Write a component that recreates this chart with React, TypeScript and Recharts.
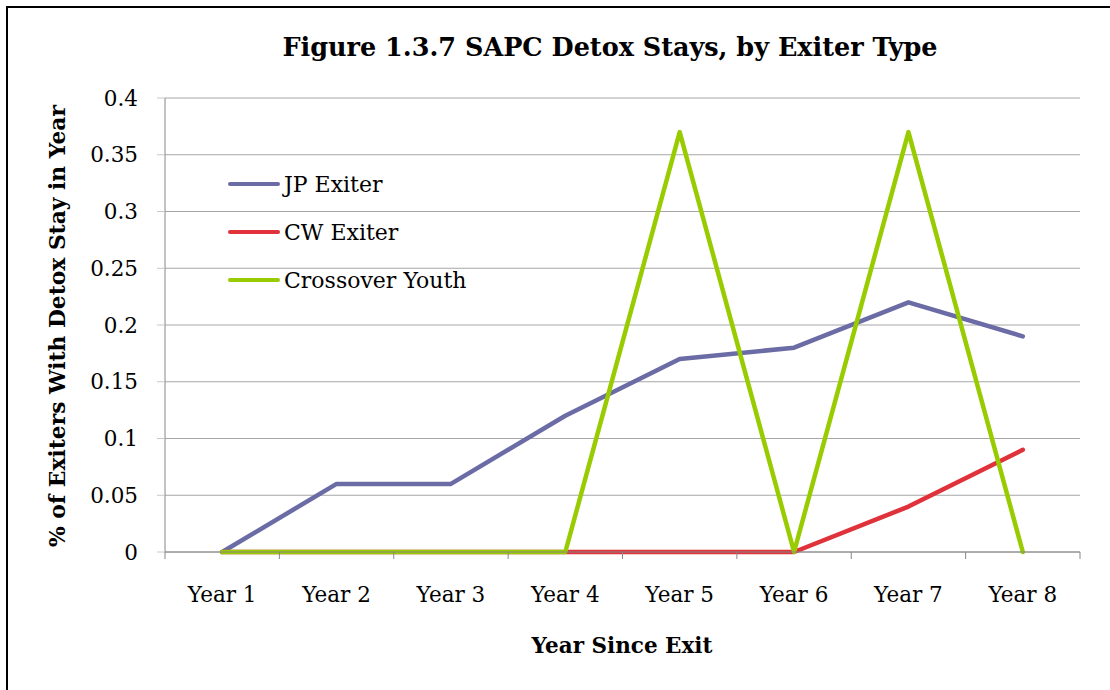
import { LineChart, Line, XAxis, YAxis, CartesianGrid } from "recharts";

const years = ["Year 1", "Year 2", "Year 3", "Year 4", "Year 5", "Year 6", "Year 7", "Year 8"];
const jpExiter = [0, 0.06, 0.06, 0.12, 0.17, 0.18, 0.22, 0.19];
const cwExiter = [0, 0, 0, 0, 0, 0, 0.04, 0.09];
const crossoverYouth = [0, 0, 0, 0, 0.37, 0, 0.37, 0];
const yTicks = [0, 0.05, 0.1, 0.15, 0.2, 0.25, 0.3, 0.35, 0.4];

// label ticks at whole numbers, tick marks at the category edges (halves)
const xTicks = [0.5, ...years.flatMap((_, i) => [i + 1, i + 1.5])];

const series = [
  { key: "jp", name: "JP Exiter", color: "#6b6ba6" },
  { key: "cw", name: "CW Exiter", color: "#e0323a" },
  { key: "cy", name: "Crossover Youth", color: "#99cc00" },
];

const data = years.map((y, i) => ({
  idx: i + 1,
  year: y,
  jp: jpExiter[i],
  cw: cwExiter[i],
  cy: crossoverYouth[i],
}));

const font = "'DejaVu Serif', serif";

function YearTick(props: any) {
  const { x, y, payload } = props;
  const v = payload.value as number;
  if (Number.isInteger(v)) {
    return (
      <text x={x} y={y} dy={50} textAnchor="middle" fill="#000" fontFamily={font} fontSize={21.5}>
        {years[v - 1]}
      </text>
    );
  }
  return <line x1={x} x2={x} y1={y} y2={y + 7} stroke="#868686" />;
}

// legend sits inside the plot, top-left, like the Excel original
function LegendBox() {
  return (
    <div style={{ position: "absolute", left: 228, top: 160, fontFamily: font, fontSize: 22, color: "#000" }}>
      {series.map((s) => (
        <div key={s.key} style={{ display: "flex", alignItems: "center", height: 48 }}>
          <span
            style={{
              display: "inline-block",
              width: 52,
              height: 4.5,
              borderRadius: 2,
              background: s.color,
              marginRight: 4,
            }}
          />
          <span>{s.name}</span>
        </div>
      ))}
    </div>
  );
}

export default function App() {
  return (
    <div style={{ position: "absolute", left: 0, top: 0, width: 1110, height: 690, background: "#fff", overflow: "hidden" }}>
      <div
        style={{
          position: "absolute",
          left: 6,
          top: 6,
          width: 1200,
          height: 800,
          borderTop: "2px solid #000",
          borderLeft: "2px solid #000",
        }}
      />
      <div
        style={{
          position: "absolute",
          left: 0,
          width: 1220,
          top: 32,
          textAlign: "center",
          fontFamily: font,
          fontWeight: "bold",
          fontSize: 25.5,
        }}
      >
        Figure 1.3.7 SAPC Detox Stays, by Exiter Type
      </div>
      <div
        style={{
          position: "absolute",
          left: 57,
          top: 326,
          transform: "translate(-50%, -50%) rotate(-90deg)",
          whiteSpace: "nowrap",
          fontFamily: font,
          fontWeight: "bold",
          fontSize: 21.8,
        }}
      >
        % of Exiters With Detox Stay in Year
      </div>
      <div
        style={{
          position: "absolute",
          left: 0,
          width: 1244,
          top: 633,
          textAlign: "center",
          fontFamily: font,
          fontWeight: "bold",
          fontSize: 21.5,
        }}
      >
        Year Since Exit
      </div>
      <div style={{ position: "absolute", left: 0, top: 0 }}>
        <LineChart width={1110} height={690} data={data} margin={{ top: 98, right: 30, bottom: 98, left: 30 }}>
          <CartesianGrid vertical={false} stroke="#a6a6a6" />
          <XAxis
            dataKey="idx"
            type="number"
            domain={[0.5, 8.5]}
            ticks={xTicks}
            height={40}
            tickSize={0}
            tickMargin={0}
            tickLine={false}
            axisLine={{ stroke: "#868686" }}
            interval={0}
            tick={<YearTick />}
          />
          <YAxis
            width={135}
            domain={[0, 0.4]}
            ticks={yTicks}
            interval={0}
            tickSize={8}
            tickMargin={19}
            axisLine={{ stroke: "#868686" }}
            tickLine={{ stroke: "#c8c8c8" }}
            tick={{ fill: "#000", fontFamily: font, fontSize: 21.5 }}
          />
          {series.map((s) => (
            <Line
              key={s.key}
              dataKey={s.key}
              name={s.name}
              stroke={s.color}
              strokeWidth={4.5}
              strokeLinejoin="round"
              strokeLinecap="round"
              dot={false}
              activeDot={false}
              isAnimationActive={false}
            />
          ))}
        </LineChart>
      </div>
      <LegendBox />
    </div>
  );
}
